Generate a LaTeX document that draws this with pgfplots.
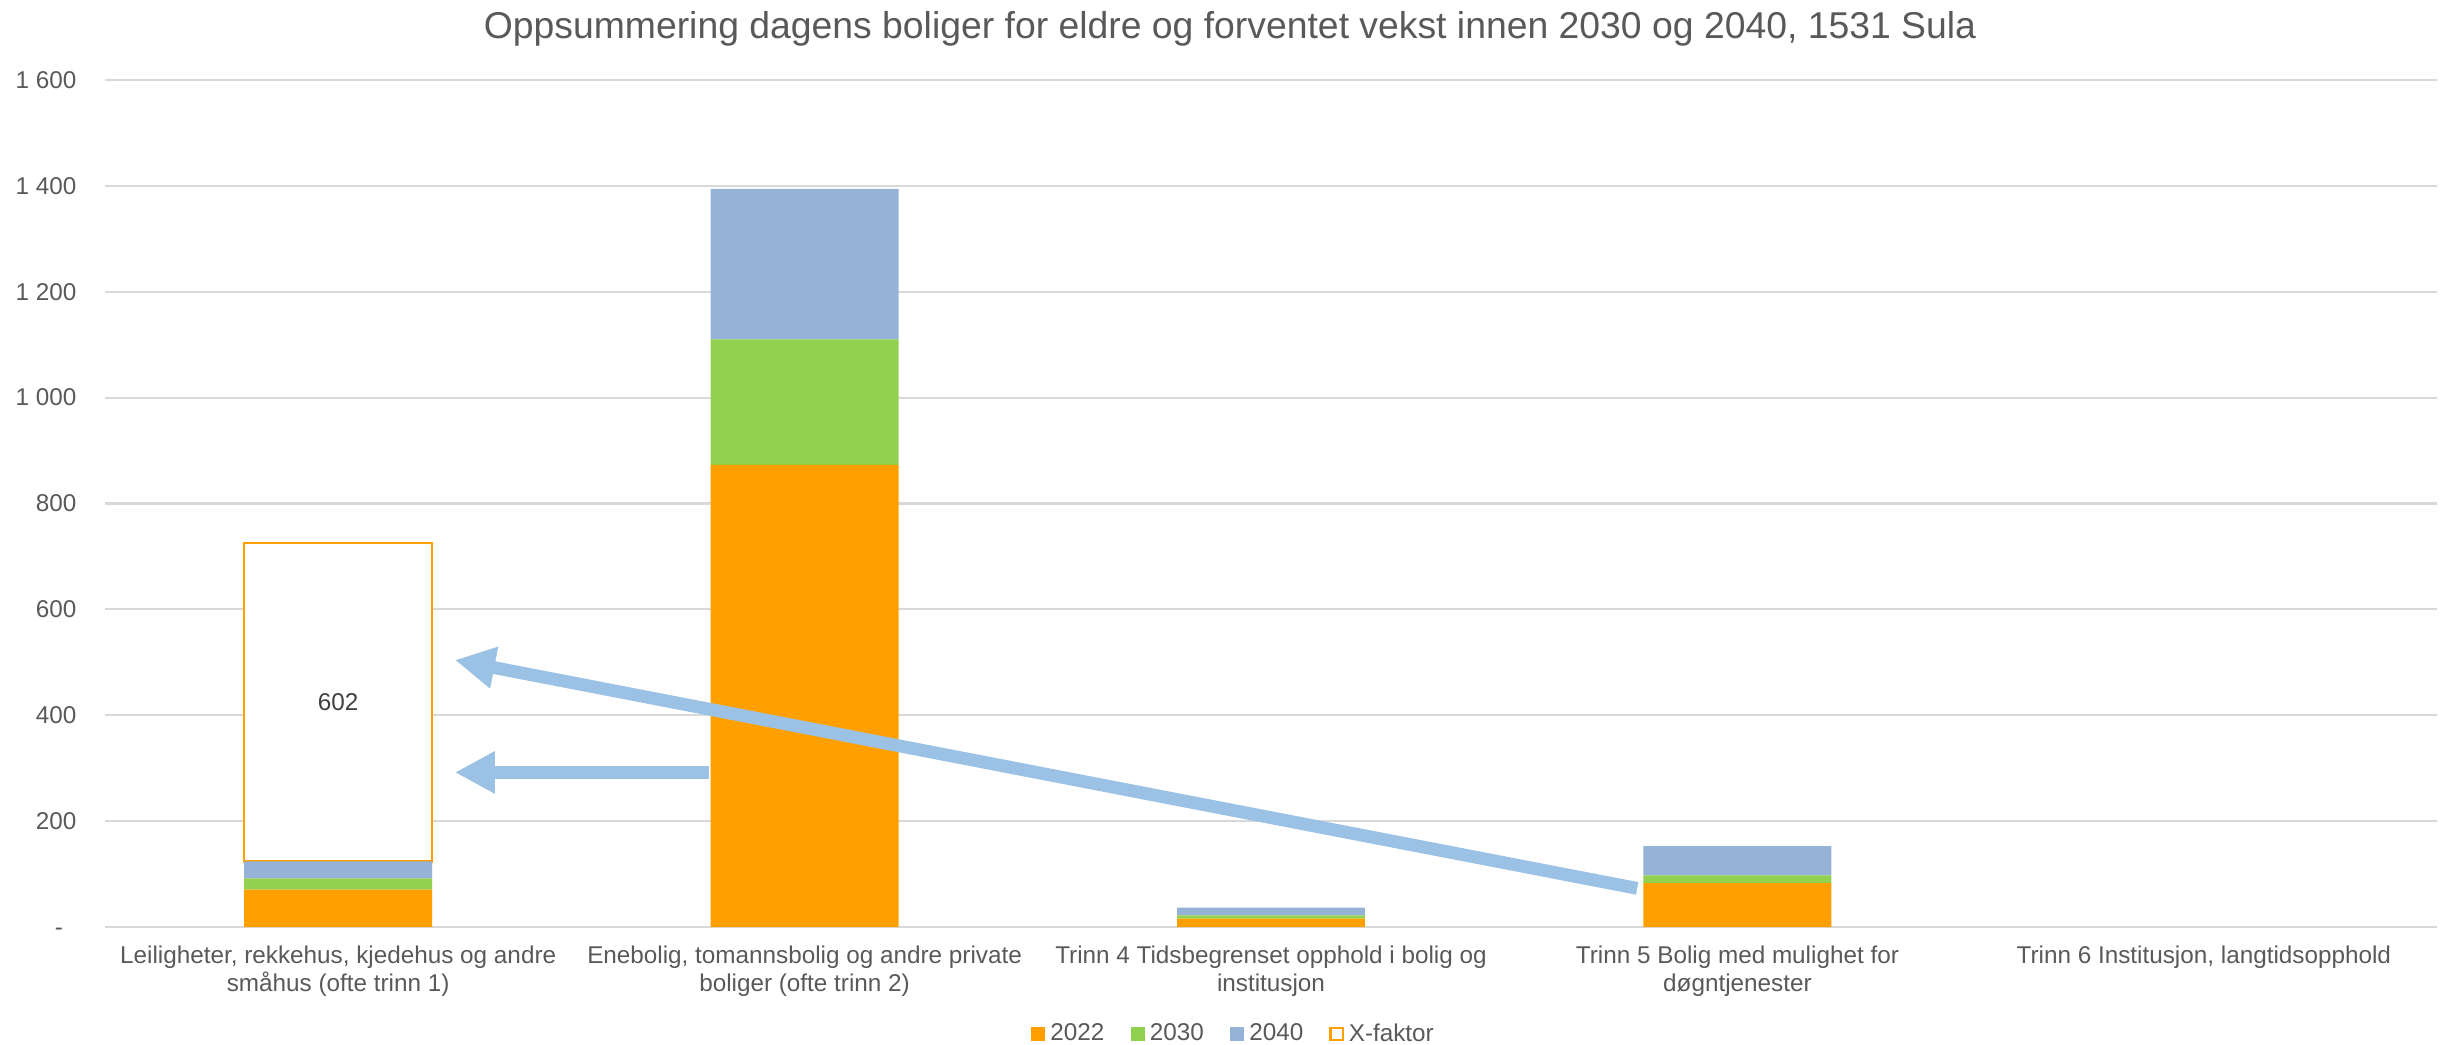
\documentclass[border=0pt]{standalone}
\usepackage{pgfplots}
\pgfplotsset{compat=1.18}
\usepackage{fontspec}
\setmainfont{Liberation Sans}
\usetikzlibrary{arrows.meta}
\definecolor{c22}{RGB}{255,160,0}
\definecolor{c30}{RGB}{146,208,80}
\definecolor{c40}{RGB}{149,179,215}
\definecolor{txt}{RGB}{89,89,89}
\definecolor{gridc}{RGB}{217,217,217}
\definecolor{arr}{RGB}{155,194,228}
\newcommand{\lblfont}{\fontsize{9.3}{10.9}\selectfont}
\begin{document}
\begin{tikzpicture}
\useasboundingbox (0,0) rectangle (937.6pt,399.9pt);
\node[anchor=base, text=txt, font=\fontsize{14.3}{17}\selectfont, inner sep=0pt] at (471.1pt,385.0pt) {Oppsummering dagens boliger for eldre og forventet vekst innen 2030 og 2040, 1531 Sula};
\begin{axis}[
  at={(40.2pt,44.8pt)}, anchor=south west,
  width=893.2pt, height=324.5pt, scale only axis,
  ybar stacked, bar width=0.403,
  xmin=-0.5, xmax=4.5, ymin=0, ymax=1600,
  clip=false,
  xtick={0,1,2,3,4},
  xticklabels={{Leiligheter, rekkehus, kjedehus og andre\\småhus (ofte trinn 1)},
               {Enebolig, tomannsbolig og andre private\\boliger (ofte trinn 2)},
               {Trinn 4 Tidsbegrenset opphold i bolig og\\institusjon},
               {Trinn 5 Bolig med mulighet for\\døgntjenester},
               {Trinn 6 Institusjon, langtidsopphold}},
  ytick={0,200,400,600,800,1000,1200,1400,1600},
  yticklabels={-\phantom{0},200,400,600,800,1 000,1 200,1 400,1 600},
  ymajorgrids, major grid style={gridc, line width=0.8pt},
  axis line style={draw=none}, tick style={draw=none},
  xticklabel style={align=center, anchor=north, inner sep=0pt, yshift=-7pt, font=\lblfont, text=txt},
  yticklabel style={anchor=east, inner sep=0pt, xshift=-10.7pt, font=\lblfont, text=txt},
  legend columns=4,
  legend style={at={(0.4846,-0.1264)}, anchor=center, draw=none, fill=none, font=\lblfont, text=txt,
    inner sep=0pt, /tikz/every even column/.append style={column sep=8pt}},
  sq/.style={legend image code/.code={\fill[#1] (0pt,-2.7pt) rectangle (5.4pt,2.7pt);}},
  sqo/.style={legend image code/.code={\draw[#1, fill=white, line width=0.8pt] (0.4pt,-2.3pt) rectangle (5.0pt,2.3pt);}},
]
\addplot[fill=c22, draw=none, sq=c22] coordinates {(0,71) (1,873) (2,16) (3,83) (4,0)};
\addplot[fill=c30, draw=none, sq=c30] coordinates {(0,21) (1,237) (2,6) (3,15) (4,0)};
\addplot[fill=c40, draw=none, sq=c40] coordinates {(0,32) (1,284) (2,15) (3,55) (4,0)};
\addplot[fill=white, draw=c22, line width=0.8pt, sqo=c22] coordinates {(0,602)};
\legend{2022,2030,2040,X-faktor}
\coordinate (lbl) at (axis cs:0,425);
\coordinate (a1s) at (axis cs:0.7946,292.2);
\coordinate (a1e) at (axis cs:0.2504,292.2);
\coordinate (a2s) at (axis cs:2.785,73.2);
\coordinate (a2e) at (axis cs:0.2504,504.4);
\end{axis}
\node[text={rgb,255:red,64;green,64;blue,64}, font=\lblfont] at (lbl) {602};
\draw[arr, line width=4.9pt, -{Triangle[length=15.3pt,width=15.2pt]}] (a1s) -- (a1e);
\draw[arr, line width=4.9pt, -{Triangle[length=15.3pt,width=15.2pt]}] (a2s) -- (a2e);
\end{tikzpicture}
\end{document}
